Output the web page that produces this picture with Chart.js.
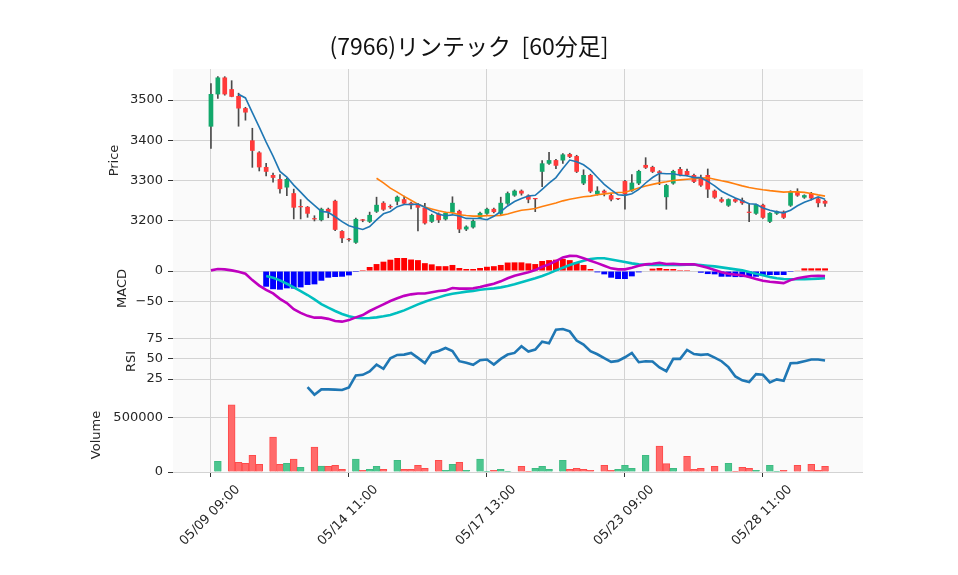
<!DOCTYPE html>
<html><head><meta charset="utf-8">
<script src="https://cdn.jsdelivr.net/npm/chart.js@4.4.1/dist/chart.umd.min.js"></script>
<style>
html,body{margin:0;padding:0;background:#fff;width:958px;height:575px;overflow:hidden;position:relative;}
canvas{position:absolute;left:0;}
</style></head><body>
<canvas id="cPrice" width="958" height="272" style="top:0px"></canvas>
<canvas id="cMacd" width="958" height="113" style="top:232px"></canvas>
<canvas id="cRsi" width="958" height="113" style="top:305px"></canvas>
<canvas id="cVol" width="958" height="197" style="top:378px"></canvas>
<script>
// ---------------- data ----------------
const chartTitle = '(7966)リンテック  [60分足]';
const days = ['05/09','05/10','05/13','05/14','05/15','05/16','05/17','05/20','05/21','05/22','05/23','05/24','05/27','05/28','05/29'];
const hours = ['09:00','10:00','11:00','12:00','13:00','14:00'];
const xTickIndex = [0,20,40,60,80];

const open = [3434,3514,3556,3527,3510,3480,3400,3370,3334,3314,
 3304,3283,3269,3235,3235,3205,3202,3230,3250,3175,
 3154,3146,3202,3198,3223,3245,3235,3248,3254,3245,
 3241,3233,3198,3218,3204,3221,3225,3179,3184,3208,
 3218,3230,3218,3243,3263,3275,3263,3255,3322,3342,
 3351,3350,3366,3361,3293,3314,3266,3275,3264,3255,
 3299,3275,3293,3339,3334,3323,3259,3293,3329,3324,
 3314,3306,3314,3275,3254,3238,3254,3252,3221,3218,
 3240,3198,3218,3223,3238,3273,3258,3269,3256,3250];
const high = [3541,3558,3558,3548,3517,3482,3430,3372,3343,3319,
 3315,3306,3279,3253,3236,3213,3232,3232,3252,3176,
 3157,3207,3204,3222,3259,3248,3240,3262,3262,3247,
 3244,3244,3217,3220,3222,3260,3227,3188,3203,3222,
 3232,3232,3259,3272,3277,3277,3265,3256,3350,3370,
 3353,3367,3368,3363,3327,3316,3285,3277,3266,3256,
 3301,3315,3326,3357,3336,3325,3291,3326,3333,3329,
 3316,3314,3329,3277,3258,3255,3256,3257,3244,3242,
 3242,3221,3225,3225,3275,3280,3265,3271,3258,3252];
const low = [3380,3504,3512,3508,3435,3450,3333,3324,3312,3296,
 3269,3263,3205,3205,3209,3200,3200,3208,3176,3146,
 3150,3144,3198,3196,3221,3226,3231,3240,3241,3230,
 3175,3192,3196,3196,3202,3219,3171,3176,3182,3206,
 3216,3220,3216,3241,3261,3264,3245,3223,3285,3340,
 3330,3343,3357,3320,3290,3270,3264,3262,3250,3253,
 3229,3273,3290,3330,3320,3290,3229,3291,3312,3312,
 3295,3286,3258,3256,3246,3236,3246,3241,3198,3216,
 3206,3196,3216,3206,3236,3261,3256,3252,3235,3236];
const close = [3515,3556,3514,3508,3479,3469,3374,3333,3322,3307,
 3279,3304,3233,3234,3218,3204,3230,3222,3178,3157,
 3153,3205,3201,3215,3240,3228,3234,3260,3243,3239,
 3233,3194,3215,3202,3220,3245,3179,3186,3200,3220,
 3230,3222,3245,3269,3275,3268,3253,3254,3343,3351,
 3337,3365,3359,3322,3314,3273,3275,3270,3253,3254,
 3266,3295,3324,3332,3322,3319,3289,3324,3314,3314,
 3297,3288,3278,3258,3248,3254,3248,3244,3220,3241,
 3208,3220,3224,3208,3273,3263,3264,3256,3244,3243];
const ma5 = [null,null,null,null,3514.4,3505.2,3468.8,3432.6,3395.4,3361,
 3323,3309,3289,3271.4,3253.6,3238.6,3223.8,3221.6,3210.4,3198.2,
 3188,3183,3178.8,3186.2,3202.8,3217.8,3223.6,3235.4,3241,3240.8,
 3241.8,3233.8,3224.8,3216.6,3212.8,3215.2,3212.2,3206.4,3206,3206,
 3203,3211.6,3223.4,3237.2,3248.2,3255.8,3262,3263.8,3278.6,3293.8,
 3307.6,3330,3351,3346.8,3339.4,3326.6,3308.6,3290.8,3277,3265,
 3263.6,3267.6,3278.4,3294.2,3307.8,3318.4,3317.2,3317.2,3313.6,3312,
 3307.6,3307.4,3298.2,3287,3273.8,3265.2,3257.2,3250.4,3242.8,3241.4,
 3232.2,3226.6,3222.6,3220.2,3226.6,3237.6,3246.4,3252.8,3260,3254];
const ma25 = [null,null,null,null,null,null,null,null,null,null,
 null,null,null,null,null,null,null,null,null,null,
 null,null,null,null,3306,3294.5,3281.6,3271.5,3260.9,3251.3,
 3241.8,3234.6,3229.9,3225.1,3221.6,3220.3,3215.3,3213.4,3212.0,3212.1,
 3213.2,3212.8,3213.8,3217.4,3222.1,3226.7,3228.6,3230.8,3235.9,3240.3,
 3244.7,3249.9,3253.9,3257.0,3260.0,3261.6,3264.9,3267.1,3269.1,3270.5,
 3271.3,3276.0,3281.5,3286.8,3290.8,3294.4,3297.1,3300.2,3302.0,3303.6,
 3304.8,3306.2,3307.1,3303.7,3299.6,3296.3,3291.6,3287.0,3282.9,3280.0,
 3277.4,3275.2,3273.4,3271.6,3272.3,3272.2,3271.0,3268.2,3264.7,3261.6];
const macdLine = [1.1,3.3,2.75,1.1,-1.1,-4.4,-15,-24,-31,-37,
 -46,-53,-63,-69,-74,-77,-77,-79,-82.5,-83.6,
 -81,-76.5,-72.6,-66,-60.5,-55,-49.5,-45,-41,-38.5,
 -37,-37,-35,-33,-32,-28,-29,-29,-28.6,-26.4,
 -23.7,-21,-17,-12,-7.7,-5,-2.2,1.6,7,11,
 16.5,22.5,25,24.8,21,17,13,8.8,4.4,2.75,
 2.75,5.5,8.8,11,12,13.7,11.5,12,11,11,
 11,8.3,5.5,1.6,-2.2,-4.4,-6,-7,-10,-13.2,
 -16,-17.6,-18.7,-20,-15,-12,-10,-8.3,-7.7,-8.3];
const signalLine = [null,null,null,null,null,null,null,null,-8.3,-11,
 -15.4,-21,-27,-33,-39.6,-46.8,-54.5,-60.5,-66,-71,
 -74.8,-77,-78,-77.5,-76.5,-74.8,-72.6,-69,-65,-60,
 -55,-50.6,-46.8,-43.5,-40,-37.4,-35.8,-34,-33,-31,
 -29.7,-28.6,-27,-24.8,-22,-18.7,-15.4,-12,-8.3,-3.9,
 1.1,5.5,10,13.7,17,19.8,21,21,19,17,
 14.9,12.6,11,10.5,10,10,10,10,10,10.5,
 10.5,10,8.8,7.7,6,4.4,2.75,1.1,-1.6,-4.4,
 -7,-10,-12,-13.2,-13.7,-13.7,-13.7,-13.2,-12.6,-12];
const macdHist = [null,null,null,null,null,null,null,null,-25.9,-30,
 -30.8,-28.6,-29,-27,-23,-22,-16,-11,-9.9,-9.4,
 -7.2,-1.6,1.6,6.6,11.5,15.4,18.7,21.5,21.5,19,
 18,13,11,8,8,10,5,3.3,3.3,5,
 7,8,10,14,14.3,14.3,12.6,11.5,16.5,18,
 18.7,19.8,18,14.3,10,3.3,-2.2,-5.5,-11,-13.2,
 -13.2,-8.8,-2.2,0,3.9,5,3.3,3.3,1.6,1.6,
 0,-2.75,-5,-5.5,-9.4,-9.4,-10,-10,-10,-9.4,
 -6.6,-6.6,-6.6,-6.6,-1.6,1.1,4.4,4.4,4.4,4.4];
const rsi = [null,null,null,null,null,null,null,null,null,null,
 null,null,null,null,15.1,5.7,12.3,12.3,11.9,11.5,
 14.7,29.5,30.3,34.4,43,37.7,50.8,54.9,55.3,57.4,
 51.2,44.7,57.4,59.8,63.5,59.8,47.1,45.1,42.6,48.4,
 49.2,43,50,55.3,57.4,65.6,59,61.5,71.3,69.3,
 86,86.9,84,72.6,67.6,59.4,55.7,50.8,46.3,47.5,
 52,57.4,45.9,47.1,46.7,39.3,34.8,50,50,61,
 56,54.9,55.7,51.6,47.1,39.8,28.3,23.4,21.3,31.1,
 30.3,20.9,24.6,22.9,44.7,45.1,47.1,49.2,49.2,48];
const volume = [0,98000,0,613000,89000,80000,153000,70000,0,319000,
 70000,80000,117000,43000,0,227000,55000,52000,61000,25000,
 0,117000,15000,25000,52000,25000,0,107000,25000,25000,
 61000,34000,0,107000,15000,70000,89000,15000,0,117000,
 6000,15000,25000,6000,0,52000,6000,34000,52000,25000,
 0,107000,25000,34000,25000,15000,0,61000,15000,25000,
 61000,34000,0,153000,0,236000,77000,34000,0,144000,
 25000,34000,0,52000,0,80000,6000,43000,34000,15000,
 0,61000,6000,15000,0,61000,0,70000,15000,52000];
const priceTicks = [3200,3300,3400,3500];
const macdTicks = [-50,0];
const rsiTicks = [25,50,75];
const volTicks = [0,500000];

// ---------------- build ----------------
const labels = [];
days.forEach(d => hours.forEach(h => labels.push(d + ' ' + h)));
const idx = close.map((_, i) => i);
const pts = arr => arr.map((v, i) => ({x: i, y: v}));

const FONT = 'DejaVu Sans';
const TXT = '#262626';
const GRID = '#d3d3d3';
const UP = '#12a86b', DOWN = '#ff3a3a';
const PLOT_L = 173, PLOT_R = 863;

const bgPlugin = {
  id: 'plotbg',
  beforeDraw(c) {
    const a = c.chartArea, ctx = c.ctx;
    ctx.save(); ctx.fillStyle = '#fafafa';
    ctx.fillRect(a.left, a.top, a.right - a.left, a.bottom - a.top);
    ctx.restore();
  }
};
const titlePlugin = {
  id: 'figtitle',
  afterDraw(c) {
    const ctx = c.ctx;
    ctx.save();
    ctx.font = '23px "Noto Sans CJK JP"';
    ctx.fillStyle = '#111';
    ctx.textAlign = 'center';
    ctx.textBaseline = 'middle';
    ctx.fillText(chartTitle, 469, 46);
    ctx.restore();
  }
};

function xAxis(show) {
  const o = {
    type: 'linear', min: -5.5, max: 94.5, offset: false,
    afterBuildTicks: s => { s.ticks = xTickIndex.map(v => ({value: v})); },
    grid: {color: GRID, lineWidth: 1, offset: false, drawTicks: show, tickLength: 5, tickColor: '#333'},
    border: {display: false},
    afterFit: s => { s.height = show ? 103 : 0; }
  };
  if (show) {
    o.ticks = {display: true, autoSkip: false, minRotation: 45, maxRotation: 45, labelOffset: 27, padding: 5,
      font: {family: FONT, size: 13}, color: TXT, callback: v => labels[v]};
  } else {
    o.ticks = {display: false};
  }
  return o;
}
function yAxis(min, max, ticks, title, padLeft, fmt) {
  return {
    min, max, position: 'left',
    afterBuildTicks: s => { s.ticks = ticks.map(v => ({value: v})); },
    ticks: {font: {family: FONT, size: 13}, color: TXT, padding: 5, callback: fmt || (v => String(v))},
    grid: {color: GRID, lineWidth: 1, tickColor: '#333', tickLength: 5},
    border: {display: false},
    title: {display: true, text: title, font: {family: FONT, size: 13}, color: TXT, padding: 0},
    afterFit: s => { s.width = PLOT_L - padLeft; }
  };
}
const base = (padL, padT, padB) => ({
  responsive: false, animation: false, devicePixelRatio: 1,
  layout: {padding: {left: padL, right: 958 - PLOT_R, top: padT, bottom: padB}},
  plugins: {legend: {display: false}, tooltip: {enabled: false}, title: {display: false}}
});

// Price panel
new Chart(document.getElementById('cPrice'), {
  type: 'bar',
  data: {datasets: [
    {type: 'line', data: pts(ma5), borderColor: '#1f77b4', borderWidth: 1.6, pointRadius: 0, order: 0},
    {type: 'line', data: pts(ma25), borderColor: '#ff7f0e', borderWidth: 1.6, pointRadius: 0, order: 0},
    {data: idx.map(i => ({x: i, y: [open[i], close[i]]})), grouped: false, order: 1,
      backgroundColor: idx.map(i => close[i] >= open[i] ? UP : DOWN),
      barPercentage: 0.68, categoryPercentage: 1, minBarLength: 1.2},
    {data: idx.map(i => ({x: i, y: [low[i], high[i]]})), grouped: false, order: 2,
      backgroundColor: '#4a4a4a', barThickness: 1}
  ]},
  options: Object.assign(base(107, 69, 20), {
    scales: {x: xAxis(false), y: yAxis(3123, 3577, priceTicks, 'Price', 107)}
  }),
  plugins: [bgPlugin, titlePlugin]
});

// MACD panel
const minusFmt = v => v < 0 ? '\u2212' + Math.abs(v) : String(v);
new Chart(document.getElementById('cMacd'), {
  type: 'bar',
  data: {datasets: [
    {type: 'line', data: pts(macdLine), borderColor: '#bf00bf', borderWidth: 2.6, pointRadius: 0, order: 0},
    {type: 'line', data: pts(signalLine), borderColor: '#00bfbf', borderWidth: 2.6, pointRadius: 0, order: 0},
    {data: pts(macdHist), order: 1, backgroundColor: macdHist.map(v => v >= 0 ? '#ff0000' : '#0000ff'),
      barPercentage: 0.85, categoryPercentage: 1}
  ]},
  options: Object.assign(base(115, 20, 20), {
    scales: {x: xAxis(false), y: yAxis(-89.1, 31.4, macdTicks, 'MACD', 115, minusFmt)}
  }),
  plugins: [bgPlugin]
});

// RSI panel
new Chart(document.getElementById('cRsi'), {
  type: 'line',
  data: {datasets: [
    {data: pts(rsi), borderColor: '#1f77b4', borderWidth: 2.6, pointRadius: 0}
  ]},
  options: Object.assign(base(124, 20, 20), {
    scales: {x: xAxis(false), y: yAxis(1.6, 91.9, rsiTicks, 'RSI', 124)}
  }),
  plugins: [bgPlugin]
});

// Volume panel
const volUp = idx.map(i => i === 0 || close[i] > close[i - 1]);
new Chart(document.getElementById('cVol'), {
  type: 'bar',
  data: {datasets: [
    {data: pts(volume),
      backgroundColor: volUp.map(u => u ? '#4cc68f' : '#ff6a6a'),
      borderColor: volUp.map(u => u ? '#3dbb82' : '#ff4a4a'),
      borderWidth: 1, borderSkipped: 'bottom',
      barPercentage: 1, categoryPercentage: 1}
  ]},
  options: Object.assign(base(89, 20, 0), {
    scales: {x: xAxis(true), y: yAxis(0, 675000, volTicks, 'Volume', 89)}
  }),
  plugins: [bgPlugin]
});
</script>
</body></html>
